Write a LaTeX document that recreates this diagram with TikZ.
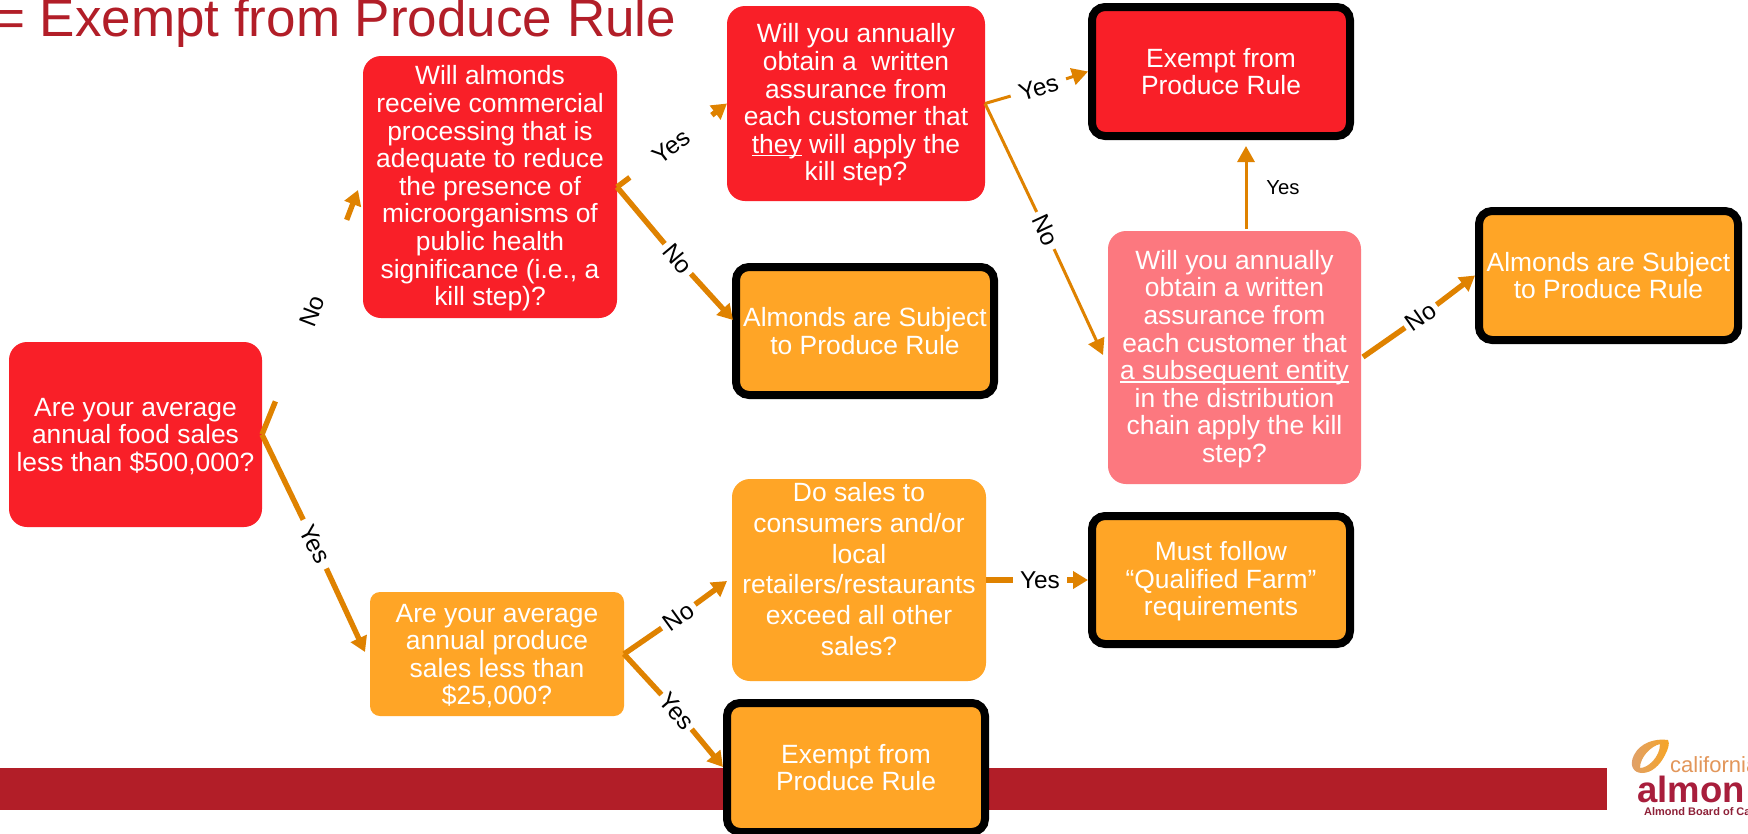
\documentclass[tikz,border=0pt]{standalone}
\usepackage{fontspec}
\setmainfont{Liberation Sans}
\usetikzlibrary{arrows.meta}
\definecolor{redbox}{HTML}{F91F28}
\definecolor{orangebox}{HTML}{FFA526}
\definecolor{pinkbox}{HTML}{FC787F}
\definecolor{conn}{HTML}{DF8200}
\definecolor{bar}{HTML}{B21E28}
\newcommand\ulin[1]{{\setbox0\hbox{#1}\rlap{\rule[-3.2pt]{\wd0}{1.6pt}}\box0}}
\newcommand\dnsh{\rule{0pt}{22.2pt}}
\tikzset{
  txt/.style={font=\fontsize{26.4}{27.6}\selectfont,text=white,align=center,inner sep=0pt},
  qbox/.style={txt,rounded corners=18pt,outer sep=0pt,draw=none},
  endbox/.style={txt,rounded corners=13pt,draw=black,line width=8pt,outer sep=4pt},
  thickconn/.style={draw=conn,line width=5.4pt},
  thinconn/.style={draw=conn,line width=3pt},
  tipthick/.style={-{Triangle[length=15pt,width=17pt]}},
  tipthin/.style={-{Triangle[length=16pt,width=17pt]}},
  lab/.style={font=\fontsize{24.4}{25}\selectfont,text=black,inner sep=0pt,outer sep=0pt,minimum height=8pt},
}
\begin{document}
\begin{tikzpicture}[x=1pt,y=-1pt]
\useasboundingbox (0,0) rectangle (1748,833);
\clip (0,0) rectangle (1748,833);
\fill[white] (0,0) rectangle (1748,833);
% band and title
\fill[bar] (0,768) rectangle (1607,810);
\node[anchor=base west,inner sep=0pt,text=bar,font=\fontsize{53}{56}\selectfont] (title) at (-6,36) {= Exempt from Produce Rule};
% boxes
\node[qbox,fill=redbox,minimum width=253pt,minimum height=185pt] (A) at (135.5,434.5) {\dnsh Are your average\\annual food sales\\less than \$500,000?};
\node[qbox,fill=redbox,minimum width=254pt,minimum height=262pt] (B) at (490,187) {\dnsh Will almonds\\receive commercial\\processing that is\\adequate to reduce\\the presence of\\microorganisms of\\public health\\significance (i.e., a\\kill step)?};
\node[qbox,fill=redbox,minimum width=258pt,minimum height=195pt] (C) at (856,103.5) {\dnsh Will you annually\\obtain a\ \ written\\assurance from\\each customer that\\\ulin{they} will apply the\\kill step?};
\node[endbox,fill=redbox,minimum width=258pt,minimum height=129pt] (D) at (1221,71.5) {Exempt from\\Produce Rule};
\node[endbox,fill=orangebox,minimum width=258pt,minimum height=128pt] (E) at (865,331) {Almonds are Subject\\to Produce Rule};
\node[qbox,fill=pinkbox,minimum width=253pt,minimum height=253pt] (F) at (1234.5,357.5) {\dnsh Will you annually\\obtain a written\\assurance from\\each customer that\\\ulin{a subsequent entity}\\in the distribution\\chain apply the kill\\step?};
\node[endbox,fill=orangebox,minimum width=259pt,minimum height=129pt] (G) at (1608.5,275.5) {Almonds are Subject\\to Produce Rule};
\node[qbox,fill=orangebox,minimum width=254pt,minimum height=202pt,font=\fontsize{26.4}{30.8}\selectfont] (H) at (859,580) {Do sales to\\consumers and/or\\local\\retailers/restaurants\\exceed all other\\sales?\\[-8.8pt]\mbox{}};
\node[endbox,fill=orangebox,minimum width=258pt,minimum height=128pt] (I) at (1221,580) {\dnsh Must follow\\“Qualified Farm”\\requirements};
\node[qbox,fill=orangebox,rounded corners=10pt,minimum width=254pt,minimum height=124pt] (J) at (497,654) {\dnsh Are your average\\annual produce\\sales less than\\\$25,000?};
\node[endbox,fill=orangebox,minimum width=258pt,minimum height=129pt] (K) at (856,767.5) {Exempt from\\Produce Rule};
% labels (width = the gap they leave in their connector)
\node[lab,rotate=69,minimum width=195pt] (lAno) at (312,311) {No};
\node[lab,rotate=-63,minimum width=54pt] (lAyes) at (315,544) {Yes};
\node[lab,rotate=37.5,minimum width=103pt] (lByes) at (671,146.5) {Yes};
\node[lab,rotate=-50,minimum width=40pt] (lBno) at (677.5,259) {No};
\node[lab,rotate=17,minimum width=58pt] (lCyes) at (1038.5,88) {Yes};
\node[lab,rotate=-65,minimum width=41pt] (lCno) at (1045.5,230.5) {No};
\node[lab,rotate=35,minimum width=39pt] (lFno) at (1421,316.5) {No};
\node[lab,rotate=36,minimum width=41pt] (lJno) at (678.5,616.5) {No};
\node[lab,rotate=-49,minimum width=46pt] (lJyes) at (677,711.5) {Yes};
\node[lab,minimum width=54pt] (lHyes) at (1040,580) {Yes};
\node[inner sep=0pt,font=\fontsize{20.3}{22}\selectfont] (lFyes) at (1283,188) {Yes};
% free ends
\coordinate (tipB) at (358,190);
\coordinate (tipJ) at (365,652);
\coordinate (tipE) at (733,320);
\coordinate (tipF) at (1103,355);
\coordinate (tipH) at (727,581);
\coordinate (tipK) at (723,767);
\coordinate (tipD) at (1246,146);
\coordinate (startFyes) at (1246,229);
\coordinate (startFno) at (1363,357);
% connectors
\draw[thickconn] (A.east) -- (lAno);
\draw[thickconn,tipthick] (lAno) -- (tipB);
\draw[thickconn] (A.east) -- (lAyes);
\draw[thickconn,tipthick] (lAyes) -- (tipJ);
\draw[thickconn] (B.east) -- (lByes);
\draw[thickconn,tipthick] (lByes) -- (C.west);
\draw[thickconn] (B.east) -- (lBno);
\draw[thickconn,tipthick] (lBno) -- (tipE);
\draw[thinconn] (C.east) -- (lCyes);
\draw[thinconn,tipthin] (lCyes) -- (D.west);
\draw[thinconn] (C.east) -- (lCno);
\draw[thinconn,tipthin] (lCno) -- (tipF);
\draw[thinconn,tipthin] (startFyes) -- (tipD);
\draw[thickconn] (startFno) -- (lFno);
\draw[thickconn,tipthick] (lFno) -- (G.west);
\draw[thickconn] (J.east) -- (lJno);
\draw[thickconn,tipthick] (lJno) -- (tipH);
\draw[thickconn] (J.east) -- (lJyes);
\draw[thickconn,tipthick] (lJyes) -- (tipK);
\draw[thickconn] (H.east) -- (lHyes);
\draw[thickconn,tipthick] (lHyes) -- (I.west);
% logo
\shade[left color={rgb,255:red,222;green,160;blue,110},right color={rgb,255:red,247;green,165;blue,35},even odd rule]
 (1668,740) .. controls (1655,738) and (1640,743) .. (1634,755) .. controls (1629,765) and (1633,773) .. (1642,773) .. controls (1652,773) and (1660,765) .. (1665,755) .. controls (1668,749) and (1670,744) .. (1668,740) -- cycle
 (1660,744) .. controls (1651,746) and (1640,757) .. (1640,768) .. controls (1648,768) and (1660,757) .. (1660,744) -- cycle;
\node[anchor=base west,inner sep=0pt,text={rgb,255:red,226;green,150;blue,90},font=\fontsize{22}{24}\selectfont] (logoa) at (1670,772) {california};
\node[anchor=base west,inner sep=0pt,text={rgb,255:red,168;green,30;blue,60},font=\bfseries\fontsize{36.5}{40}\selectfont] (logob) at (1637,802) {almon};
\node[anchor=base west,inner sep=0pt,text={rgb,255:red,142;green,33;blue,56},font=\bfseries\fontsize{11}{12}\selectfont] (logoc) at (1644,815) {Almond Board of Cal};
\end{tikzpicture}
\end{document}
